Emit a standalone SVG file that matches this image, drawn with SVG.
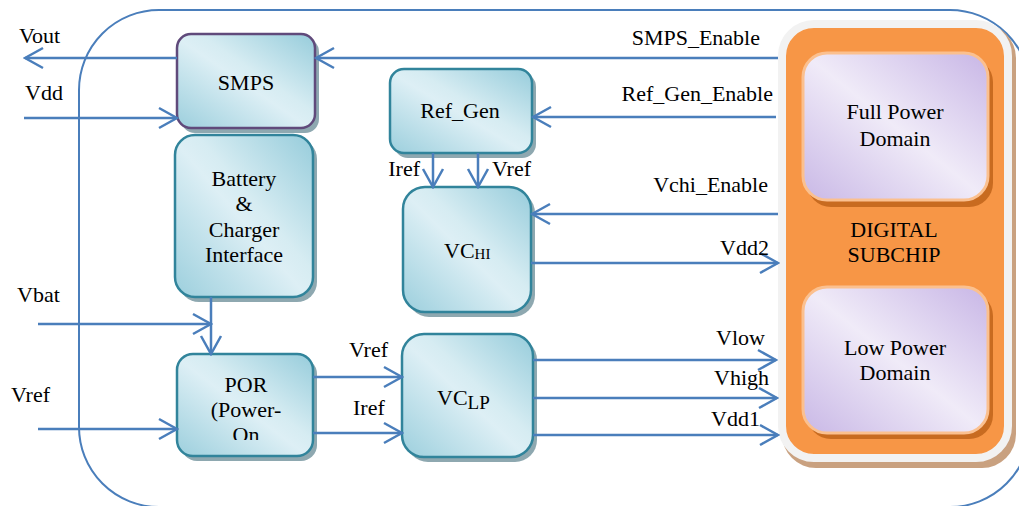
<svg xmlns="http://www.w3.org/2000/svg" width="1019" height="506" viewBox="0 0 1019 506">
<style>
text{font-family:"Liberation Serif","Times New Roman",serif;font-size:22px;fill:#000}
.mid{text-anchor:middle}
.end{text-anchor:end}
.box{fill:url(#blueGrad);stroke:#31849b;stroke-width:2.5}
.smps{fill:url(#blueGrad);stroke:#604a7b;stroke-width:2.5}
.shadow{fill:#8ea8b0}
.dom{fill:url(#lavGrad);stroke:#fbc08f;stroke-width:3}
.domsh{fill:#c86b20}
.wire{fill:none;stroke:#4a7ebb;stroke-width:2.5;marker-end:url(#arr)}
</style>
<defs>
<linearGradient id="blueGrad" x1="0" y1="1" x2="1" y2="0">
<stop offset="0" stop-color="#9ccfdd"/>
<stop offset="0.48" stop-color="#ddeff5"/>
<stop offset="0.58" stop-color="#d6ecf2"/>
<stop offset="1" stop-color="#96ccdb"/>
</linearGradient>
<linearGradient id="lavGrad" x1="0" y1="1" x2="1" y2="0">
<stop offset="0" stop-color="#c9b8e6"/>
<stop offset="0.5" stop-color="#f0ebf8"/>
<stop offset="1" stop-color="#c8b6e6"/>
</linearGradient>
<marker id="arr" markerUnits="userSpaceOnUse" markerWidth="22" markerHeight="24" viewBox="0 0 22 24" refX="20" refY="12" orient="auto">
<path d="M2,2 L20,12 L2,22" fill="none" stroke="#4a7ebb" stroke-width="2.5"/>
</marker>
<clipPath id="porClip"><rect x="170" y="350" width="150" height="90"/></clipPath>
</defs>

<g id="chip-boundary">
<rect x="79" y="10" width="951" height="497" rx="80" ry="80" fill="none" stroke="#4a7ebb" stroke-width="2"/>
</g>

<g id="smps">
<rect class="shadow" x="181" y="38" width="138" height="95" rx="14"/>
<rect class="smps" x="177" y="34" width="138" height="94" rx="14"/>
<text class="mid" x="246" y="90">SMPS</text>
</g>

<g id="battery">
<rect class="shadow" x="179" y="139" width="138" height="163" rx="20"/>
<rect class="box" x="175" y="135" width="138" height="162" rx="20"/>
<text class="mid" x="244" y="186">Battery</text>
<text class="mid" x="244" y="211">&amp;</text>
<text class="mid" x="244" y="237">Charger</text>
<text class="mid" x="244" y="262">Interface</text>
</g>

<g id="por">
<rect class="shadow" x="181" y="358" width="136" height="103" rx="16"/>
<rect class="box" x="177" y="354" width="136" height="102" rx="16"/>
<g clip-path="url(#porClip)">
<text class="mid" x="246" y="392">POR</text>
<text class="mid" x="246" y="417">(Power-</text>
<text class="mid" x="246" y="442">On</text>
</g>
</g>

<g id="ref-gen">
<rect class="shadow" x="394" y="73" width="142" height="85" rx="14"/>
<rect class="box" x="390" y="69" width="142" height="84" rx="14"/>
<text class="mid" x="460" y="118">Ref_Gen</text>
</g>

<g id="vc-hi">
<rect class="shadow" x="407" y="191" width="128" height="126" rx="22"/>
<rect class="box" x="403" y="187" width="128" height="125" rx="22"/>
<text x="444" y="258">VC<tspan font-size="15" dy="1">HI</tspan></text>
</g>

<g id="vc-lp">
<rect class="shadow" x="406" y="338" width="131" height="124" rx="22"/>
<rect class="box" x="402" y="334" width="131" height="123" rx="22"/>
<text x="437" y="405" font-size="27">VC<tspan font-size="19" dy="4">LP</tspan></text>
</g>

<g id="digital-subchip">
<rect x="782" y="24" width="234" height="444" rx="34" fill="#c9a180"/>
<rect x="782" y="24" width="226" height="434" rx="32" fill="#f79646" stroke="#f2f2f2" stroke-width="8"/>
<text class="mid" x="894" y="237">DIGITAL</text>
<text class="mid" x="894" y="262">SUBCHIP</text>
</g>

<g id="full-power-domain">
<rect class="domsh" x="807" y="58" width="186" height="149" rx="24"/>
<rect class="dom" x="803" y="53" width="185" height="147" rx="24"/>
<text class="mid" x="895" y="119">Full Power</text>
<text class="mid" x="895" y="146">Domain</text>
</g>

<g id="low-power-domain">
<rect class="domsh" x="807" y="292" width="186" height="147" rx="24"/>
<rect class="dom" x="803" y="287" width="185" height="146" rx="24"/>
<text class="mid" x="895" y="355">Low Power</text>
<text class="mid" x="895" y="380">Domain</text>
</g>

<g id="connectors">
<path class="wire" d="M778,58 H316"/>
<path class="wire" d="M177,58 H25"/>
<path class="wire" d="M24,118 H177"/>
<path class="wire" d="M776,117 H533"/>
<path class="wire" d="M433,153 V187"/>
<path class="wire" d="M478,153 V187"/>
<path class="wire" d="M778,214 H532"/>
<path class="wire" d="M531,263 H778"/>
<path class="wire" d="M211,297 V354"/>
<path class="wire" d="M38,324 H211"/>
<path class="wire" d="M38,429 H177"/>
<path class="wire" d="M313,377 H402"/>
<path class="wire" d="M313,433 H402"/>
<path class="wire" d="M533,360 H776"/>
<path class="wire" d="M533,398 H777"/>
<path class="wire" d="M533,435 H778"/>
</g>

<g id="labels">
<text x="19" y="43">Vout</text>
<text x="25" y="100">Vdd</text>
<text x="17" y="302">Vbat</text>
<text x="11" y="402">Vref</text>
<text class="end" x="760" y="45">SMPS_Enable</text>
<text class="end" x="773" y="101">Ref_Gen_Enable</text>
<text class="end" x="768" y="192">Vchi_Enable</text>
<text class="end" x="769" y="255">Vdd2</text>
<text class="end" x="765" y="345">Vlow</text>
<text class="end" x="769" y="385">Vhigh</text>
<text class="end" x="760" y="426">Vdd1</text>
<text class="end" x="420" y="176">Iref</text>
<text x="492" y="176">Vref</text>
<text x="349" y="357">Vref</text>
<text x="353" y="415">Iref</text>
</g>
</svg>
